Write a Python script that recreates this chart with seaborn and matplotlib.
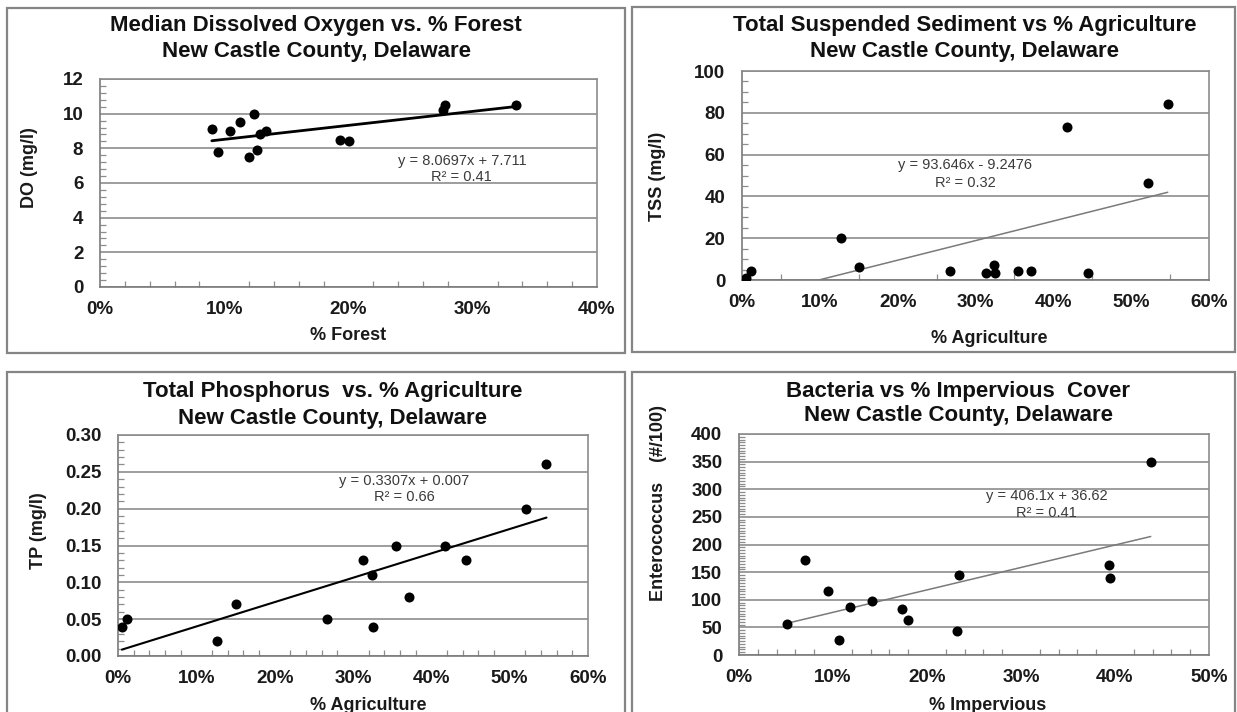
import numpy as np
import pandas as pd
import matplotlib
matplotlib.use("Agg")
import matplotlib.pyplot as plt
import seaborn as sns
from matplotlib.ticker import PercentFormatter, MultipleLocator, FormatStrFormatter
from matplotlib.patches import Rectangle

# ---------------- data ----------------
forest_pct = [0.090, 0.095, 0.1045, 0.113, 0.120, 0.124, 0.1266, 0.1285, 0.1335, 0.193, 0.2008, 0.276, 0.278, 0.3346]
do_mgl = [9.1, 7.8, 9.0, 9.5, 7.5, 10.0, 7.9, 8.8, 9.0, 8.5, 8.4, 10.2, 10.5, 10.5]
do_fit = (8.0697, 7.711)

agri_pct = [0.005, 0.012, 0.127, 0.150, 0.267, 0.313, 0.324, 0.325, 0.355, 0.371, 0.418, 0.444, 0.521, 0.547]
tss_mgl = [1.1, 4.3, 20, 6, 4.3, 3.2, 7.3, 3.2, 4.3, 4.3, 73, 3.2, 46.5, 84]
tss_fit = (93.646, -9.2476)
tp_mgl = [0.04, 0.05, 0.02, 0.07, 0.05, 0.13, 0.11, 0.04, 0.15, 0.08, 0.15, 0.13, 0.20, 0.26]
tp_fit = (0.3307, 0.007)

imperv_pct = [0.0514, 0.070, 0.095, 0.1067, 0.118, 0.141, 0.173, 0.1796, 0.232, 0.234, 0.394, 0.395, 0.438]
entero = [57, 172, 116, 27, 87, 97, 83, 63, 43, 145, 162, 140, 350]
ent_fit = (406.1, 36.62)

titles = [
    ("Median Dissolved Oxygen vs. % Forest", "New Castle County, Delaware"),
    ("Total Suspended Sediment vs % Agriculture", "New Castle County, Delaware"),
    ("Total Phosphorus  vs. % Agriculture", "New Castle County, Delaware"),
    ("Bacteria vs % Impervious  Cover", "New Castle County, Delaware"),
]
eq_texts = [
    ("y = 8.0697x + 7.711", "R² = 0.41"),
    ("y = 93.646x - 9.2476", "R² = 0.32"),
    ("y = 0.3307x + 0.007", "R² = 0.66"),
    ("y = 406.1x + 36.62", "R² = 0.41"),
]
xlabels = ["% Forest", "% Agriculture", "% Agriculture", "% Impervious"]
ylabels = ["DO (mg/l)", "TSS (mg/l)", "TP (mg/l)", "Enterococcus    (#/100)"]

# ---------------- style ----------------
sns.set_theme(style="white")
plt.rcParams["font.family"] = ["Liberation Sans", "DejaVu Sans"]

W, H = 1237, 712
fig = plt.figure(figsize=(W / 100, H / 100), dpi=100)
fig.patch.set_facecolor("white")


def px_axes(left, right, top, bottom):
    return fig.add_axes([left / W, 1 - bottom / H, (right - left) / W, (bottom - top) / H])


def px_rect(x0, x1, y0, y1):
    fig.patches.append(Rectangle((x0 / W, 1 - y1 / H), (x1 - x0) / W, (y1 - y0) / H,
                                 transform=fig.transFigure, fill=False,
                                 edgecolor="#858585", linewidth=1.6, zorder=0))


# panel borders (chart areas)
px_rect(7, 625, 8, 353)
px_rect(632, 1235, 7, 352)
px_rect(7, 625, 372, 730)
px_rect(632, 1235, 372, 730)

axes = [
    px_axes(100, 597, 79, 287),
    px_axes(742, 1209, 71, 280),
    px_axes(118, 588, 435, 656),
    px_axes(739, 1209, 434, 655),
]

datasets = [
    (forest_pct, do_mgl, do_fit, (0, 0.40), (0, 12), 0.10, 0.02, 2, 0.4, "%d", "black", 2.0),
    (agri_pct, tss_mgl, tss_fit, (0, 0.60), (0, 100), 0.10, 0.05, 20, 5, "%d", "#7a7a7a", 1.1),
    (agri_pct, tp_mgl, tp_fit, (0, 0.60), (0, 0.30), 0.10, 0.02, 0.05, 0.01, "%.2f", "black", 1.5),
    (imperv_pct, entero, ent_fit, (0, 0.50), (0, 400), 0.10, 0.02, 50, 5, "%d", "#7a7a7a", 1.1),
]

title_pos = [(316, 25, 52), (965, 26, 52), (333, 392, 418), (958, 391, 416)]
eq_pos = [(0.728, 0.607, 0.530), (0.4775, 0.550, 0.4655), (0.6085, 0.790, 0.718), (0.655, 0.718, 0.6425)]
xlab_pos = [(0.50, -0.192), (0.529, -0.239), (0.533, -0.186), (0.528, -0.19)]
ylab_pos = [(-0.125, 0.572), (-0.162, 0.498), (-0.151, 0.568), (-0.154, 0.688)]

for i, ax in enumerate(axes):
    xs, ys, fit, xlim, ylim, xmaj, xmin_, ymaj, ymin_, yfmt, lcol, lw = datasets[i]
    df = pd.DataFrame({"x": xs, "y": ys})
    # gridlines
    ax.set_axisbelow(True)
    ax.yaxis.grid(True, which="major", color="#8c8c8c", linewidth=1.2)
    ax.xaxis.grid(False)
    # trend line
    xr = np.array([min(xs), max(xs)])
    fit_df = pd.DataFrame({"x": xr, "y": fit[0] * xr + fit[1]})
    sns.lineplot(data=fit_df, x="x", y="y", ax=ax, color=lcol, linewidth=lw, zorder=2)
    # points
    sns.scatterplot(data=df, x="x", y="y", ax=ax, color="black", s=52,
                    edgecolor="black", linewidth=0, zorder=3)
    ax.set_xlim(*xlim)
    ax.set_ylim(*ylim)
    ax.xaxis.set_major_locator(MultipleLocator(xmaj))
    ax.xaxis.set_minor_locator(MultipleLocator(xmin_))
    ax.yaxis.set_major_locator(MultipleLocator(ymaj))
    ax.yaxis.set_minor_locator(MultipleLocator(ymin_))
    ax.xaxis.set_major_formatter(PercentFormatter(1.0, decimals=0))
    ax.yaxis.set_major_formatter(FormatStrFormatter(yfmt))
    for side in ["left", "bottom", "top", "right"]:
        ax.spines[side].set_visible(True)
        ax.spines[side].set_color("#8c8c8c")
        ax.spines[side].set_linewidth(1.2)
    ax.spines["left"].set_color("#7a7a7a")
    ax.spines["bottom"].set_color("#7a7a7a")
    ax.tick_params(axis="both", which="major", direction="inout", length=8, width=1.1,
                   color="#7a7a7a", labelsize=13.5, labelcolor="#1a1a1a")
    ax.tick_params(axis="x", which="major", pad=6)
    ax.tick_params(axis="y", which="major", pad=8)
    ax.tick_params(axis="both", which="minor", direction="in", length=4, width=0.9,
                   color="#8c8c8c", bottom=True, left=True, top=False, right=False)
    ax.tick_params(axis="both", which="major", top=False, right=False)
    for lab in ax.get_xticklabels() + ax.get_yticklabels():
        lab.set_fontweight("bold")
    ax.set_xlabel(xlabels[i], fontsize=13, fontweight="bold", color="#1a1a1a")
    ax.set_ylabel(ylabels[i], fontsize=13, fontweight="bold", color="#1a1a1a")
    ax.xaxis.set_label_coords(*xlab_pos[i])
    ax.yaxis.set_label_coords(*ylab_pos[i])
    ex, ey1, ey2 = eq_pos[i]
    ax.text(ex, ey1, eq_texts[i][0], transform=ax.transAxes, ha="center", va="center",
            fontsize=10.5, color="#3a3a3a", zorder=4)
    ax.text(ex, ey2, eq_texts[i][1], transform=ax.transAxes, ha="center", va="center",
            fontsize=10.5, color="#3a3a3a", zorder=4)
    tx, ty1, ty2 = title_pos[i]
    fig.text(tx / W, 1 - ty1 / H, titles[i][0], ha="center", va="center",
             fontsize=16, fontweight="bold", color="#111111")
    fig.text(tx / W, 1 - ty2 / H, titles[i][1], ha="center", va="center",
             fontsize=16, fontweight="bold", color="#111111")

fig.savefig("out.png", dpi=100, facecolor="white")
